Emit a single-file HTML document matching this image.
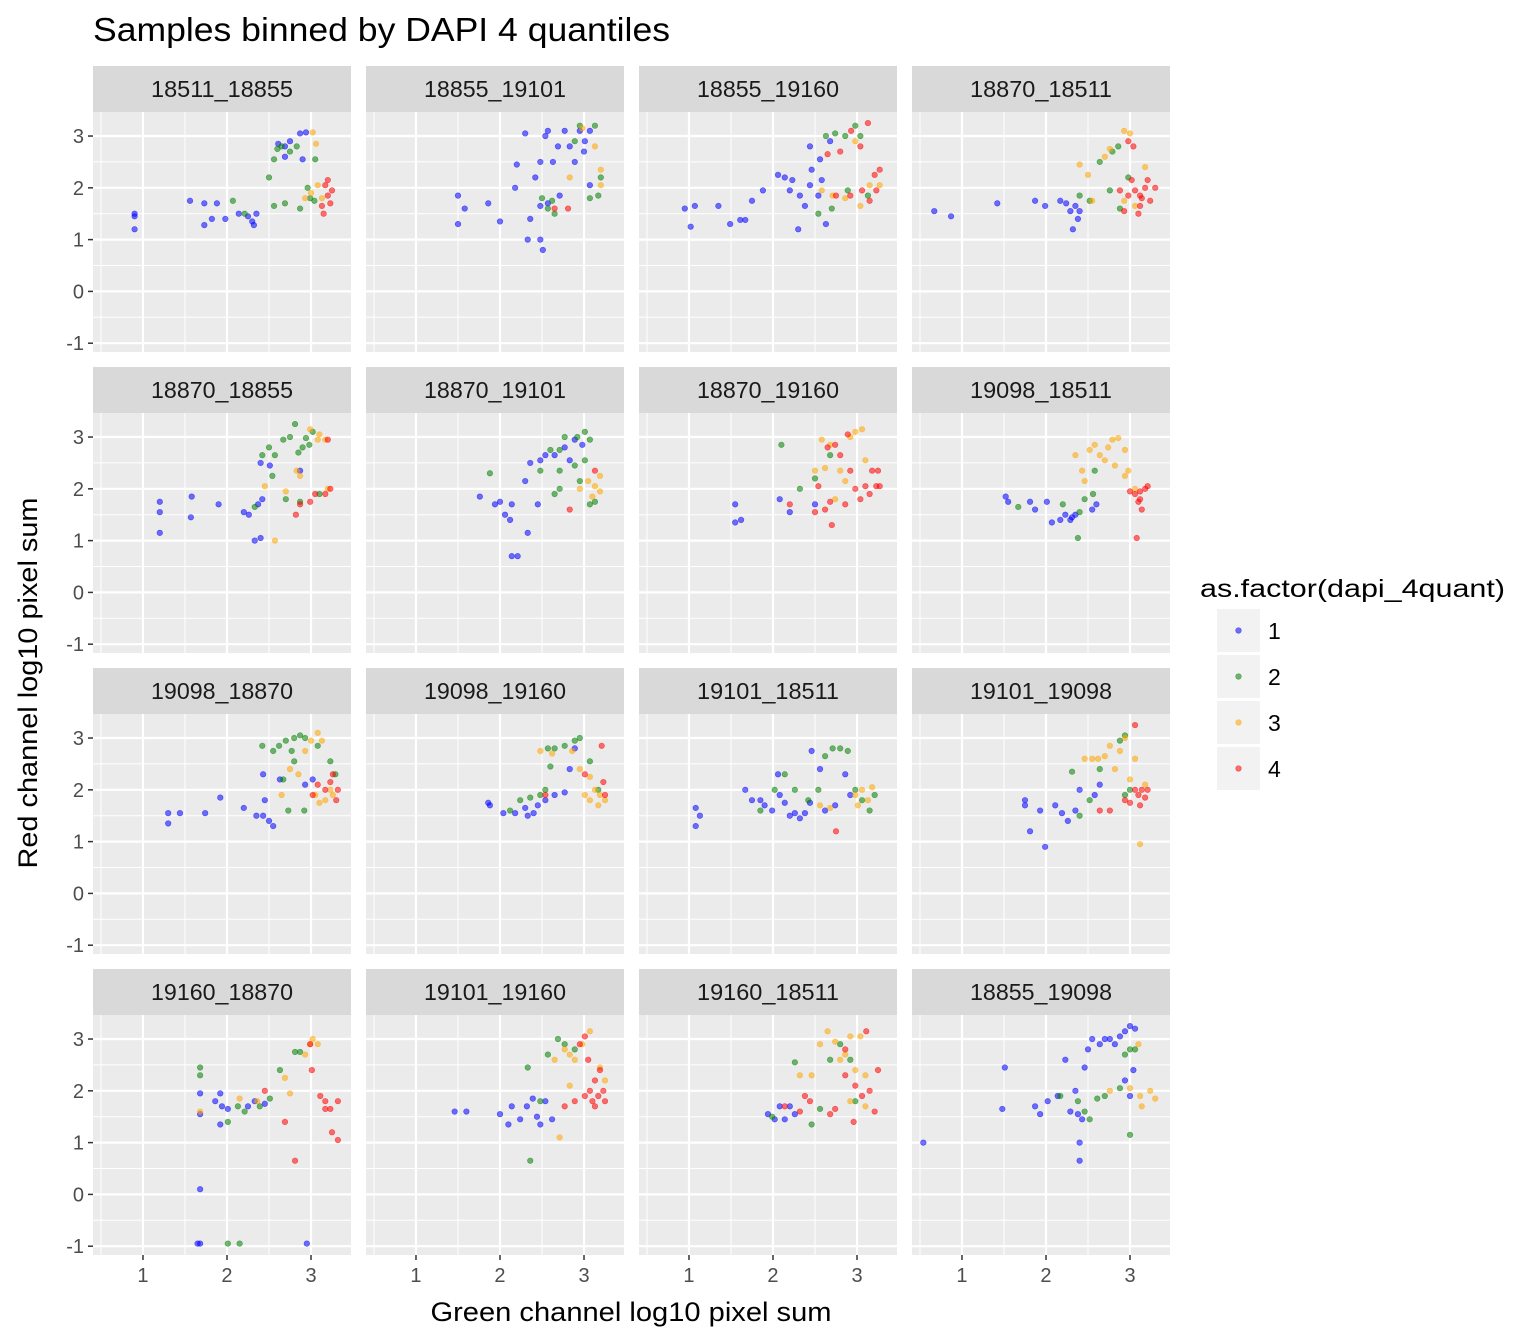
<!DOCTYPE html>
<html><head><meta charset="utf-8">
<style>
html,body{margin:0;padding:0;background:#fff;}
svg{display:block;font-family:"Liberation Sans",sans-serif;}
</style></head>
<body>
<svg id="chart" width="1536" height="1344" viewBox="0 0 1536 1344" xmlns="http://www.w3.org/2000/svg">
<text x="93" y="41" font-size="33" fill="#000" textLength="577" lengthAdjust="spacingAndGlyphs">Samples binned by DAPI 4 quantiles</text>
<text x="631" y="1321" font-size="27" fill="#000" text-anchor="middle" textLength="401" lengthAdjust="spacingAndGlyphs">Green channel log10 pixel sum</text>
<text x="0" y="0" font-size="27" fill="#000" text-anchor="middle" textLength="371" lengthAdjust="spacingAndGlyphs" transform="translate(37,683) rotate(-90)">Red channel log10 pixel sum</text>
<g id="panels"></g>
<g id="legend">
<text x="1200" y="597" font-size="25" fill="#000" textLength="305" lengthAdjust="spacingAndGlyphs">as.factor(dapi_4quant)</text>
</g>
</svg>
<script>
const panelNames=["18511_18855","18855_19101","18855_19160","18870_18511","18870_18855","18870_19101","18870_19160","19098_18511","19098_18870","19098_19160","19101_18511","19101_19098","19160_18870","19101_19160","19160_18511","18855_19098"];
const groupLabels=["1","2","3","4"];
const groupColors=["#0000ff","#008000","#ffa500","#ff0000"];
const xTicks=[1,2,3];
const yTicks=[-1,0,1,2,3];
const p1=[[0.9,1.5,1],[0.9,1.45,1],[0.9,1.2,1],[1.56,1.75,1],[1.73,1.7,1],[1.73,1.28,1],[1.88,1.7,1],[1.82,1.4,1],[1.98,1.4,1],[2.14,1.5,1],[2.25,1.45,1],[2.3,1.35,1],[2.32,1.28,1],[2.35,1.5,1],[2.61,2.85,1],[2.75,2.9,1],[2.87,3.05,1],[2.69,2.6,1],[2.9,2.55,1],[2.94,3.07,1],[2.69,2.8,1],
[2.07,1.75,2],[2.21,1.5,2],[2.5,2.2,2],[2.56,2.55,2],[2.6,2.75,2],[2.65,2.8,2],[2.75,2.7,2],[2.56,1.65,2],[2.69,1.7,2],[2.87,1.6,2],[2.96,2.0,2],[3.05,2.55,2],[3.04,1.75,2],[2.99,1.8,2],[2.83,2.8,2],
[3.02,3.07,3],[3.06,2.85,3],[3.0,1.9,3],[3.08,2.05,3],[3.13,1.8,3],[2.93,1.8,3],
[3.15,1.5,4],[3.2,2.15,4],[3.2,1.85,4],[3.25,1.95,4],[3.13,1.65,4],[3.17,2.05,4],[3.23,1.7,4]];
const p2=[[1.5,1.85,1],[1.5,1.3,1],[1.58,1.6,1],[1.86,1.7,1],[2.0,1.35,1],[2.18,2.0,1],[2.2,2.45,1],[2.3,3.05,1],[2.36,1.4,1],[2.33,1.0,1],[2.48,1.0,1],[2.51,0.8,1],[2.42,2.2,1],[2.48,2.5,1],[2.54,3.0,1],[2.57,3.1,1],[2.63,2.5,1],[2.69,2.8,1],[2.77,3.1,1],[2.83,2.8,1],[2.71,1.85,1],[2.89,2.5,1],[2.95,3.1,1],[3.01,2.9,1],[3.07,3.1,1],[3.07,2.05,1],[3.0,2.7,1],[2.57,1.7,1],[2.48,1.65,1],
[2.5,1.8,2],[2.62,1.75,2],[2.89,2.9,2],[2.95,3.2,2],[3.13,3.2,2],[3.07,1.8,2],[3.17,1.85,2],[3.2,2.2,2],[2.65,1.5,2],[2.57,1.6,2],
[2.83,2.2,3],[2.98,3.15,3],[3.2,2.35,3],[3.2,2.05,3],[3.13,2.8,3],
[2.65,1.6,4],[2.81,1.6,4]];
const p3=[[0.95,1.6,1],[1.07,1.65,1],[1.02,1.25,1],[1.35,1.65,1],[1.49,1.3,1],[1.61,1.38,1],[1.67,1.38,1],[1.75,1.75,1],[1.88,1.95,1],[2.06,2.25,1],[2.14,2.2,1],[2.23,2.15,1],[2.3,1.2,1],[2.38,1.65,1],[2.44,2.05,1],[2.32,1.85,1],[2.54,1.85,1],[2.56,2.55,1],[2.44,2.8,1],[2.68,2.9,1],[2.63,1.3,1],[2.58,2.15,1],[2.2,1.95,1],[2.46,2.35,1],
[2.54,1.5,2],[2.7,1.6,2],[2.63,3.0,2],[2.74,3.05,2],[2.86,3.0,2],[2.98,3.2,2],[3.04,3.0,2],[3.13,1.85,2],[2.89,1.95,2],
[2.58,1.95,3],[2.71,1.85,3],[2.86,1.8,3],[3.04,1.65,3],[3.15,2.05,3],[3.27,2.05,3],[2.98,2.9,3],
[2.65,2.65,4],[2.8,2.7,4],[2.93,3.1,4],[3.13,3.25,4],[3.04,2.8,4],[2.92,1.85,4],[3.06,1.95,4],[3.21,2.25,4],[3.23,1.95,4],[3.27,2.35,4],[2.75,1.85,4],[3.15,1.75,4]];
const p4=[[0.67,1.55,1],[0.87,1.45,1],[1.42,1.7,1],[1.87,1.75,1],[1.99,1.65,1],[2.17,1.75,1],[2.24,1.7,1],[2.35,1.65,1],[2.32,1.2,1],[2.38,1.4,1],[2.29,1.55,1],[2.4,1.55,1],
[2.4,1.85,2],[2.52,1.75,2],[2.64,2.5,2],[2.79,2.7,2],[2.86,2.8,2],[2.76,1.95,2],[2.88,1.6,2],[2.98,2.2,2],
[2.4,2.45,3],[2.5,2.25,3],[2.7,2.6,3],[2.76,2.75,3],[2.93,3.1,3],[3.0,3.05,3],[2.93,1.75,3],[3.06,1.65,3],[3.18,2.4,3],[2.55,1.75,3],
[2.98,2.9,4],[3.04,2.8,4],[2.88,1.95,4],[2.98,1.85,4],[3.06,1.95,4],[3.12,1.85,4],[3.18,2.0,4],[3.12,1.65,4],[3.1,1.5,4],[3.24,1.75,4],[3.3,2.0,4],[3.21,2.15,4],[3.02,2.15,4],[2.93,1.55,4],[3.14,1.8,4]];
const p5=[[1.2,1.75,1],[1.2,1.55,1],[1.2,1.15,1],[1.57,1.45,1],[1.58,1.85,1],[1.9,1.7,1],[2.2,1.55,1],[2.26,1.5,1],[2.33,1.0,1],[2.4,1.05,1],[2.4,2.5,1],[2.42,1.8,1],[2.37,1.7,1],[2.51,2.45,1],[2.87,2.35,1],
[2.42,2.65,2],[2.5,2.8,2],[2.57,2.65,2],[2.54,2.25,2],[2.67,2.95,2],[2.75,3.0,2],[2.81,3.25,2],[2.85,2.7,2],[2.9,2.8,2],[2.94,2.98,2],[3.02,3.1,2],[2.7,1.8,2],[2.87,1.75,2],[3.1,1.9,2],[2.33,1.65,2],[2.98,2.85,2],
[2.45,2.05,3],[2.57,1.0,3],[2.7,1.95,3],[2.83,2.35,3],[2.87,2.25,3],[2.99,3.15,3],[3.1,3.05,3],[3.17,2.95,3],[3.2,2.0,3],[3.08,2.95,3],
[2.82,1.5,4],[2.87,1.7,4],[3.05,1.9,4],[3.17,1.9,4],[3.23,2.0,4],[3.2,2.95,4],[2.99,1.75,4]];
const p6=[[1.76,1.85,1],[1.94,1.7,1],[2.0,1.75,1],[2.06,1.5,1],[2.12,1.4,1],[2.14,1.7,1],[2.14,0.7,1],[2.21,0.7,1],[2.33,1.15,1],[2.3,2.15,1],[2.36,2.5,1],[2.45,1.7,1],[2.48,2.55,1],[2.54,2.65,1],[2.65,2.65,1],[2.77,2.8,1],[2.89,2.95,1],[2.98,2.85,1],[2.83,2.55,1],
[1.88,2.3,2],[2.48,2.35,2],[2.6,2.75,2],[2.71,2.75,2],[2.77,3.0,2],[2.92,3.0,2],[3.01,3.1,2],[3.07,2.95,2],[2.89,2.45,2],[2.95,2.15,2],[2.65,1.9,2],[2.71,2.0,2],[3.07,1.7,2],[3.13,1.75,2],[3.01,2.55,2],[2.71,2.35,2],
[2.95,2.0,3],[3.05,2.15,3],[3.13,2.05,3],[3.19,2.25,3],[3.1,1.85,3],[3.19,1.95,3],
[2.83,1.6,4],[3.13,2.35,4]];
const p7=[[1.55,1.7,1],[1.55,1.35,1],[1.62,1.4,1],[2.08,1.8,1],[2.2,1.55,1],[2.5,1.7,1],
[2.1,2.85,2],[2.32,2.0,2],[2.5,2.2,2],[2.68,2.65,2],
[2.5,2.35,3],[2.58,2.95,3],[2.68,2.85,3],[2.8,2.35,3],[2.92,3.0,3],[2.98,3.1,3],[3.06,3.15,3],[2.86,2.15,3],[3.1,2.55,3],[2.74,1.8,3],[2.62,2.4,3],
[2.2,1.7,4],[2.5,1.55,4],[2.62,1.6,4],[2.68,1.75,4],[2.7,1.3,4],[2.65,2.8,4],[2.74,2.85,4],[2.8,2.65,4],[2.89,3.05,4],[2.92,2.35,4],[2.98,2.0,4],[3.04,1.8,4],[3.1,2.05,4],[3.18,2.35,4],[3.23,2.05,4],[3.27,2.05,4],[2.86,1.7,4],[2.54,2.05,4],[3.15,1.9,4],[3.25,2.35,4]];
const p8=[[1.52,1.85,1],[1.55,1.75,1],[1.81,1.75,1],[1.87,1.6,1],[2.01,1.75,1],[2.07,1.35,1],[2.17,1.4,1],[2.23,1.5,1],[2.29,1.4,1],[2.31,1.45,1],[2.35,1.5,1],[2.55,1.6,1],[2.6,1.7,1],
[1.67,1.65,2],[2.2,1.7,2],[2.38,1.05,2],[2.4,1.55,2],[2.46,1.8,2],[2.56,1.9,2],[2.58,2.35,2],
[2.35,2.65,3],[2.43,2.35,3],[2.46,2.15,3],[2.52,2.75,3],[2.58,2.85,3],[2.64,2.65,3],[2.7,2.55,3],[2.74,2.8,3],[2.79,2.95,3],[2.86,2.98,3],[2.82,2.45,3],[2.94,2.25,3],[2.98,2.35,3],[2.94,2.75,3],[3.06,2.0,3],
[3.0,1.95,4],[3.06,1.9,4],[3.1,1.75,4],[3.12,1.95,4],[3.14,1.6,4],[3.18,2.0,4],[3.21,2.05,4],[3.08,1.05,4],[3.12,1.8,4]];
const p9=[[1.3,1.55,1],[1.3,1.35,1],[1.44,1.55,1],[1.74,1.55,1],[1.92,1.85,1],[2.2,1.65,1],[2.35,1.5,1],[2.43,1.5,1],[2.5,1.4,1],[2.55,1.3,1],[2.45,1.8,1],[2.43,2.3,1],[2.63,2.2,1],[2.93,2.1,1],[3.02,2.2,1],
[2.42,2.85,2],[2.55,2.75,2],[2.62,2.85,2],[2.7,2.95,2],[2.8,3.0,2],[2.87,3.05,2],[2.93,3.0,2],[2.77,2.75,2],[2.67,2.2,2],[2.73,1.6,2],[2.92,1.6,2],[3.08,2.85,2],[3.23,2.55,2],[3.29,2.3,2],[2.8,2.55,2],
[2.65,1.9,3],[2.75,2.4,3],[2.85,2.3,3],[2.93,2.75,3],[3.0,2.95,3],[3.08,3.1,3],[3.13,2.95,3],[3.17,1.8,3],[3.23,2.0,3],[3.1,1.75,3],[3.05,1.9,3],[3.26,1.9,3],
[3.02,1.9,4],[3.08,2.1,4],[3.17,2.0,4],[3.23,2.15,4],[3.26,2.3,4],[3.32,2.0,4],[3.3,1.8,4]];
const p10=[[1.86,1.75,1],[1.88,1.7,1],[2.04,1.55,1],[2.18,1.55,1],[2.3,1.65,1],[2.33,1.5,1],[2.4,1.55,1],[2.45,1.7,1],[2.54,1.8,1],[2.65,1.9,1],[2.77,1.95,1],[2.83,2.4,1],[2.89,2.8,1],
[2.12,1.6,2],[2.24,1.8,2],[2.36,1.85,2],[2.48,1.9,2],[2.54,2.0,2],[2.6,2.45,2],[2.57,2.8,2],[2.65,2.8,2],[2.77,2.85,2],[2.89,2.95,2],[2.95,3.0,2],[3.07,2.55,2],[3.17,2.0,2],
[2.48,2.75,3],[2.62,2.7,3],[2.86,2.75,3],[3.07,2.25,3],[3.13,2.0,3],[3.07,1.8,3],[3.17,1.7,3],[3.19,1.9,3],[3.25,1.8,3],[3.01,1.9,3],[2.95,2.4,3],
[2.54,1.9,4],[3.01,2.3,4],[3.23,2.15,4],[3.25,1.9,4],[3.21,2.85,4]];
const p11=[[1.08,1.65,1],[1.13,1.5,1],[1.08,1.3,1],[1.67,2.0,1],[1.75,1.8,1],[1.85,1.8,1],[1.9,1.7,1],[1.99,1.6,1],[2.06,2.3,1],[2.08,1.9,1],[2.14,1.75,1],[2.2,1.5,1],[2.26,1.55,1],[2.32,1.45,1],[2.38,1.55,1],[2.44,1.75,1],[2.46,2.75,1],[2.56,2.4,1],[2.62,1.6,1],[2.74,1.7,1],[2.86,2.3,1],[2.92,1.9,1],
[1.85,1.6,2],[2.02,2.0,2],[2.14,2.3,2],[2.26,2.0,2],[2.42,1.8,2],[2.54,2.0,2],[2.62,2.65,2],[2.71,2.8,2],[2.8,2.8,2],[2.89,2.75,2],[2.98,2.0,2],[3.15,1.6,2],[3.21,1.9,2],[3.06,1.8,2],
[2.56,1.7,3],[2.68,1.65,3],[2.98,1.9,3],[3.06,2.0,3],[3.13,1.8,3],[3.18,2.05,3],[3.01,1.7,3],
[2.75,1.2,4]];
const p12=[[1.75,1.8,1],[1.75,1.7,1],[1.81,1.2,1],[1.93,1.6,1],[1.99,0.9,1],[2.11,1.7,1],[2.19,1.55,1],[2.26,1.4,1],[2.35,1.6,1],[2.4,2.0,1],[2.58,1.9,1],[2.64,2.1,1],
[2.31,2.35,2],[2.4,1.5,2],[2.52,1.8,2],[2.64,2.4,2],[2.88,2.95,2],[2.94,3.05,2],[2.94,1.9,2],[3.0,2.0,2],
[2.46,2.6,3],[2.55,2.6,3],[2.62,2.6,3],[2.7,2.65,3],[2.76,2.85,3],[2.82,2.4,3],[2.88,2.75,3],[2.94,3.0,3],[3.0,2.2,3],[3.06,2.6,3],[3.12,0.95,3],[3.18,2.1,3],
[2.64,1.6,4],[2.76,1.6,4],[2.94,1.8,4],[3.0,1.75,4],[3.06,3.25,4],[3.1,1.9,4],[3.14,2.0,4],[3.18,1.85,4],[3.12,1.7,4],[3.21,2.0,4],[3.06,2.0,4]];
const p13=[[1.68,1.95,1],[1.68,1.55,1],[1.68,0.1,1],[1.68,-0.95,1],[1.65,-0.95,1],[1.86,1.8,1],[1.92,1.95,1],[1.92,1.35,1],[1.94,1.7,1],[2.01,1.65,1],[2.25,1.7,1],[2.33,1.8,1],[2.45,1.75,1],[2.95,-0.95,1],
[1.68,2.45,2],[1.68,2.3,2],[2.01,1.4,2],[2.01,-0.95,2],[2.15,-0.95,2],[2.13,1.7,2],[2.21,1.6,2],[2.39,1.7,2],[2.51,1.85,2],[2.63,2.4,2],[2.81,2.75,2],[2.87,2.75,2],
[1.68,1.6,3],[2.15,1.85,3],[2.36,1.8,3],[2.69,2.25,3],[2.75,1.95,3],[2.93,2.7,3],[3.02,3.0,3],[3.08,2.9,3],[2.99,2.9,3],
[2.45,2.0,4],[2.69,1.4,4],[2.81,0.65,4],[3.01,2.4,4],[2.99,2.9,4],[3.11,1.9,4],[3.17,1.65,4],[3.23,1.65,4],[3.25,1.2,4],[3.32,1.05,4],[3.32,1.8,4],[3.17,1.8,4]];
const p14=[[1.46,1.6,1],[1.6,1.6,1],[2.0,1.55,1],[2.1,1.35,1],[2.14,1.7,1],[2.24,1.45,1],[2.32,1.7,1],[2.39,1.85,1],[2.44,1.5,1],[2.48,1.35,1],[2.54,1.8,1],[2.62,1.45,1],
[2.33,2.45,2],[2.36,0.65,2],[2.57,2.7,2],[2.69,3.0,2],[2.77,2.9,2],[2.89,2.8,2],[2.48,1.8,2],
[2.65,2.6,3],[2.77,2.8,3],[2.71,1.1,3],[2.83,2.1,3],[2.89,2.6,3],[2.98,2.9,3],[3.07,3.15,3],[3.19,2.45,3],[3.25,2.2,3],[2.83,2.7,3],
[2.77,1.7,4],[2.89,1.8,4],[2.95,2.9,4],[3.01,3.05,4],[3.05,2.6,4],[3.07,2.0,4],[3.1,1.8,4],[3.13,2.2,4],[3.17,1.9,4],[3.19,2.4,4],[3.23,2.0,4],[3.25,1.8,4],[3.13,1.7,4],[3.01,1.9,4]];
const p15=[[1.94,1.55,1],[2.02,1.45,1],[2.08,1.7,1],[2.14,1.45,1],[2.2,1.7,1],[2.26,1.55,1],
[1.99,1.5,2],[2.26,2.55,2],[2.46,1.35,2],[2.56,1.65,2],[2.68,2.6,2],[2.8,2.9,2],[2.92,2.6,2],[2.98,1.8,2],
[2.32,2.3,3],[2.46,2.3,3],[2.56,2.9,3],[2.65,3.15,3],[2.74,2.95,3],[2.8,2.6,3],[2.86,2.7,3],[2.92,3.05,3],[2.98,2.4,3],[3.04,3.05,3],[3.1,2.3,3],[2.92,1.8,3],[3.1,1.7,3],
[2.14,1.7,4],[2.32,1.6,4],[2.38,1.9,4],[2.44,1.8,4],[2.68,1.55,4],[2.74,1.65,4],[2.86,2.3,4],[2.98,2.1,4],[3.06,1.9,4],[3.11,3.15,4],[3.15,2.0,4],[3.21,1.6,4],[3.25,2.4,4],[2.96,1.4,4],[2.86,2.8,4]];
const p16=[[0.54,1.0,1],[1.51,2.45,1],[1.48,1.65,1],[1.87,1.7,1],[1.93,1.55,1],[2.02,1.8,1],[2.14,1.9,1],[2.23,2.6,1],[2.29,1.6,1],[2.35,2.0,1],[2.38,1.55,1],[2.4,1.0,1],[2.4,0.65,1],[2.43,1.45,1],[2.46,2.45,1],[2.5,2.8,1],[2.55,3.0,1],[2.64,2.9,1],[2.7,3.0,1],[2.76,3.0,1],[2.82,2.9,1],[2.88,3.05,1],[2.94,3.15,1],[3.0,3.25,1],[3.06,3.2,1],[2.94,2.2,1],[3.0,1.9,1],[3.04,2.4,1],
[2.17,1.9,2],[2.38,1.8,2],[2.46,1.6,2],[2.52,1.45,2],[2.61,1.85,2],[2.7,1.9,2],[2.88,2.05,2],[2.94,2.7,2],[3.0,2.8,2],[3.0,1.15,2],[3.06,2.8,2],
[2.76,2.0,3],[3.0,2.05,3],[3.1,2.9,3],[3.12,1.9,3],[3.14,1.7,3],[3.24,2.0,3],[3.3,1.85,3]];
const panelData=[p1,p2,p3,p4,p5,p6,p7,p8,p9,p10,p11,p12,p13,p14,p15,p16];

const NS="http://www.w3.org/2000/svg";
const colLefts=[93,366,639,912], rowTops=[112,413,714,1015];
const PW=258, PH=240, SH=46;
const X0=0.405, X1=3.476, Y0=-1.17, Y1=3.464;
function mk(tag,attrs,parent){const e=document.createElementNS(NS,tag);for(const k in attrs)e.setAttribute(k,attrs[k]);parent.appendChild(e);return e;}
const root=document.getElementById('panels');
panelData.forEach((pts,i)=>{
  const c=i%4, r=Math.floor(i/4);
  const L=colLefts[c], T=rowTops[r];
  const xs=v=>L+(v-X0)/(X1-X0)*PW;
  const ys=v=>T+PH-(v-Y0)/(Y1-Y0)*PH;
  const g=mk('g',{},root);
  
  
  const strip=mk('rect',{x:L,y:T-SH,width:PW,height:SH,fill:'#d9d9d9'},g);
  
  
  const st=mk('text',{x:L+PW/2,y:T-SH/2+8,'font-size':23,'text-anchor':'middle',fill:'#1a1a1a',textLength:142,lengthAdjust:'spacingAndGlyphs'},g);
  st.textContent=panelNames[i];
  
  
  const bg=mk('rect',{x:L,y:T,width:PW,height:PH,fill:'#ebebeb'},g);
  
  
  [0.5,1.5,2.5].forEach(v=>mk('line',{x1:xs(v),x2:xs(v),y1:T,y2:T+PH,stroke:'#fff','stroke-width':1},g));
  [-0.5,0.5,1.5,2.5].forEach(v=>mk('line',{x1:L,x2:L+PW,y1:ys(v),y2:ys(v),stroke:'#fff','stroke-width':1},g));
  xTicks.forEach(v=>mk('line',{x1:xs(v),x2:xs(v),y1:T,y2:T+PH,stroke:'#fff','stroke-width':2.2},g));
  yTicks.forEach(v=>mk('line',{x1:L,x2:L+PW,y1:ys(v),y2:ys(v),stroke:'#fff','stroke-width':2.2},g));
  [1,2,3,4].forEach(grp=>{
    pts.filter(p=>p[2]===grp).forEach(p=>{
      const ci=mk('circle',{cx:xs(p[0]),cy:ys(p[1]),r:2.8,fill:groupColors[grp-1],'fill-opacity':0.55,stroke:groupColors[grp-1],'stroke-opacity':0.55,'stroke-width':0.6},g);
      
      
    });
  });
  if(c===0){
    yTicks.forEach(v=>{
      mk('line',{x1:L-5,x2:L,y1:ys(v),y2:ys(v),stroke:'#333','stroke-width':1.5},g);
      const t=mk('text',{x:L-9,y:ys(v)+7,'font-size':20,'text-anchor':'end',fill:'#4d4d4d'},g);
      t.textContent=v;
      
      
    });
  }
  if(r===3){
    xTicks.forEach(v=>{
      mk('line',{x1:xs(v),x2:xs(v),y1:T+PH,y2:T+PH+5,stroke:'#333','stroke-width':1.5},g);
      const t=mk('text',{x:xs(v),y:T+PH+27,'font-size':20,'text-anchor':'middle',fill:'#4d4d4d'},g);
      t.textContent=v;
      
      
    });
  }
});
const leg=document.getElementById('legend');
groupLabels.forEach((lab,k)=>{
  const y=609+k*46;
  const e=mk('g',{},leg);
  
  
  mk('rect',{x:1217,y:y,width:43,height:43,fill:'#f2f2f2'},e);
  mk('circle',{cx:1238.5,cy:y+21.5,r:2.8,fill:groupColors[k],'fill-opacity':0.55,stroke:groupColors[k],'stroke-opacity':0.55,'stroke-width':0.6},e);
  const t=mk('text',{x:1268,y:y+30,'font-size':23,fill:'#000'},e);
  t.textContent=lab;
});
</script>
</body></html>
